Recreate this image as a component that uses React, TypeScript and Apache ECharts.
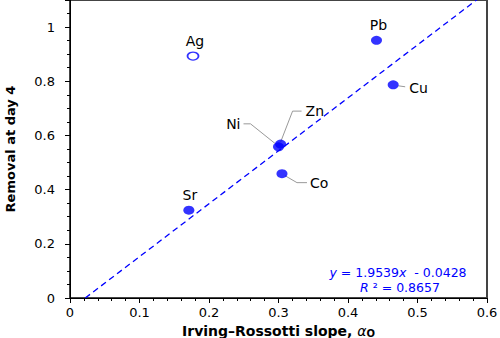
import React, { useEffect, useRef } from "react";
import * as echarts from "echarts";

// ---- data ----
const elements = ["Ag", "Pb", "Cu", "Ni", "Zn", "Co", "Sr"];
const slopes = [0.177, 0.441, 0.465, 0.3, 0.303, 0.305, 0.171];
const removal = [0.893, 0.951, 0.787, 0.558, 0.568, 0.459, 0.324];
const openElements = ["Ag"];
const fitSlope = 1.9539;
const fitIntercept = -0.0428;
const fitR2 = 0.8657;
const xTicks = [0, 0.1, 0.2, 0.3, 0.4, 0.5, 0.6];
const yTicks = [0, 0.2, 0.4, 0.6, 0.8, 1];

// label placement (pixel offsets from the point; style only)
const labelPlacement: Record<string, { line: number[][]; text: number[]; align: string }> = {
  Ag: { line: [], text: [2, -15], align: "center" },
  Pb: { line: [], text: [2, -15], align: "center" },
  Sr: { line: [], text: [1, -15], align: "center" },
  Cu: { line: [[5, 1], [12, 2]], text: [16, 3], align: "left" },
  Co: { line: [[3, 2], [15, 9], [25, 9]], text: [28, 9], align: "left" },
  Ni: { line: [[-3, -3], [-28, -23], [-35, -23]], text: [-38, -23], align: "right" },
  Zn: { line: [[0, -2], [12, -33], [21, -33]], text: [25, -33], align: "left" },
};

const FONT = "DejaVu Sans";
const EQ_SIZE = 12.5;

export default function App() {
  const ref = useRef<HTMLDivElement>(null);
  useEffect(() => {
    if (!ref.current) return;
    const chart = echarts.init(ref.current, undefined, { renderer: "svg" });
    const items = elements.map((name, i) => ({ name, value: [slopes[i], removal[i]] }));
    const filled = items.filter((d) => !openElements.includes(d.name));
    const hollow = items.filter((d) => openElements.includes(d.name));
    const labelData = elements.map((name, i) => [slopes[i], removal[i], i]);
    const xMax = 0.6;
    const yMax = 1.1;
    const x0 = -fitIntercept / fitSlope;
    const fitLine = [
      [x0, 0],
      [xMax, fitSlope * xMax + fitIntercept],
    ];
    const ticksOpts = {
      show: true,
      inside: false,
      length: 5,
      lineStyle: { color: "#000", width: 1 },
    };
    const eqStyle = (text: string) => ({
      text,
      align: "center",
      verticalAlign: "middle",
      fontFamily: FONT,
      fontSize: EQ_SIZE,
      lineHeight: 13,
      fill: "#0000ff",
      rich: { i: { fontFamily: FONT, fontStyle: "italic", fontSize: EQ_SIZE, lineHeight: 13, fill: "#0000ff" } },
    });
    chart.setOption({
      animation: false,
      grid: {
        left: 70,
        right: 13,
        top: 0,
        bottom: 40,
        show: true,
        borderColor: "#444",
        borderWidth: 2,
        backgroundColor: "#fff",
        outerBoundsMode: "none",
        containLabel: false,
      },
      xAxis: {
        type: "value",
        min: xTicks[0],
        max: xMax,
        interval: xTicks[1] - xTicks[0],
        name: "Irving–Rossotti slope, {a|α}{s|O}",
        nameLocation: "middle",
        nameGap: 20,
        nameTextStyle: {
          fontFamily: FONT,
          fontWeight: "bold",
          fontSize: 14,
          color: "#000",
          rich: {
            a: { fontFamily: FONT, fontStyle: "italic", fontSize: 14, fontWeight: "normal", color: "#000" },
            s: { fontFamily: FONT, fontSize: 10, fontWeight: "bold", color: "#000", padding: [5, 0, 0, 0] },
          },
        },
        axisLine: { show: true, onZero: false, lineStyle: { color: "#000", width: 1 } },
        axisTick: ticksOpts,
        minorTick: { show: true, splitNumber: 5, length: 3, lineStyle: { color: "#000", width: 1 } },
        splitLine: { show: false },
        axisLabel: {
          margin: 8,
          fontFamily: FONT,
          fontSize: 13,
          color: "#000",
          formatter: (v: number) => String(Math.round(v * 10) / 10),
        },
      },
      yAxis: {
        type: "value",
        min: yTicks[0],
        max: yMax,
        interval: yTicks[1] - yTicks[0],
        name: "Removal at day 4",
        nameLocation: "middle",
        nameGap: 53,
        nameRotate: 90,
        nameTextStyle: { fontFamily: FONT, fontWeight: "bold", fontSize: 13, color: "#000" },
        axisLine: { show: true, onZero: false, lineStyle: { color: "#000", width: 1 } },
        axisTick: ticksOpts,
        minorTick: { show: true, splitNumber: 4, length: 3, lineStyle: { color: "#000", width: 1 } },
        splitLine: { show: false },
        axisLabel: {
          margin: 15,
          fontFamily: FONT,
          fontSize: 13,
          color: "#000",
          showMaxLabel: false,
          formatter: (v: number) => (v > 1.05 ? "" : String(Math.round(v * 10) / 10)),
        },
      },
      graphic: [
        {
          type: "text",
          x: 398,
          y: 272.5,
          style: eqStyle(`{i|y} = ${fitSlope}{i|x}  - ${Math.abs(fitIntercept).toFixed(4)}`),
          z: 100,
        },
        {
          type: "text",
          x: 400,
          y: 287,
          style: eqStyle(`{i|R} ² = ${fitR2}`),
          z: 100,
        },
      ],
      series: [
        {
          type: "line",
          data: fitLine,
          showSymbol: false,
          symbol: "none",
          clip: true,
          lineStyle: { color: "#0000ff", width: 1.3, type: [6, 4] },
          z: 1,
        },
        {
          type: "custom",
          data: labelData,
          z: 2,
          clip: false,
          renderItem: (params: any, api: any) => {
            const idx = api.value(2);
            const name = elements[idx];
            const cfg = labelPlacement[name];
            const p = api.coord([api.value(0), api.value(1)]);
            const children: any[] = [];
            if (cfg.line.length) {
              children.push({
                type: "polyline",
                shape: { points: cfg.line.map((o) => [p[0] + o[0], p[1] + o[1]]) },
                style: { stroke: "#999", lineWidth: 1, fill: "none" },
              });
            }
            children.push({
              type: "text",
              x: p[0] + cfg.text[0],
              y: p[1] + cfg.text[1],
              style: {
                text: name,
                align: cfg.align,
                verticalAlign: "middle",
                fontFamily: FONT,
                fontSize: 14,
                fill: "#000",
              },
            });
            return { type: "group", children };
          },
        },
        {
          type: "scatter",
          data: filled,
          symbol: "circle",
          symbolSize: [11, 9],
          itemStyle: { color: "#0000ff" },
          z: 3,
        },
        {
          type: "scatter",
          data: hollow,
          symbol: "circle",
          symbolSize: [11, 8],
          itemStyle: { color: "#fff", borderColor: "#0000ff", borderWidth: 1.5 },
          z: 3,
        },
      ],
    });
    return () => chart.dispose();
  }, []);
  return <div ref={ref} style={{ width: 500, height: 338, position: "absolute", left: 0, top: 0 }} />;
}
